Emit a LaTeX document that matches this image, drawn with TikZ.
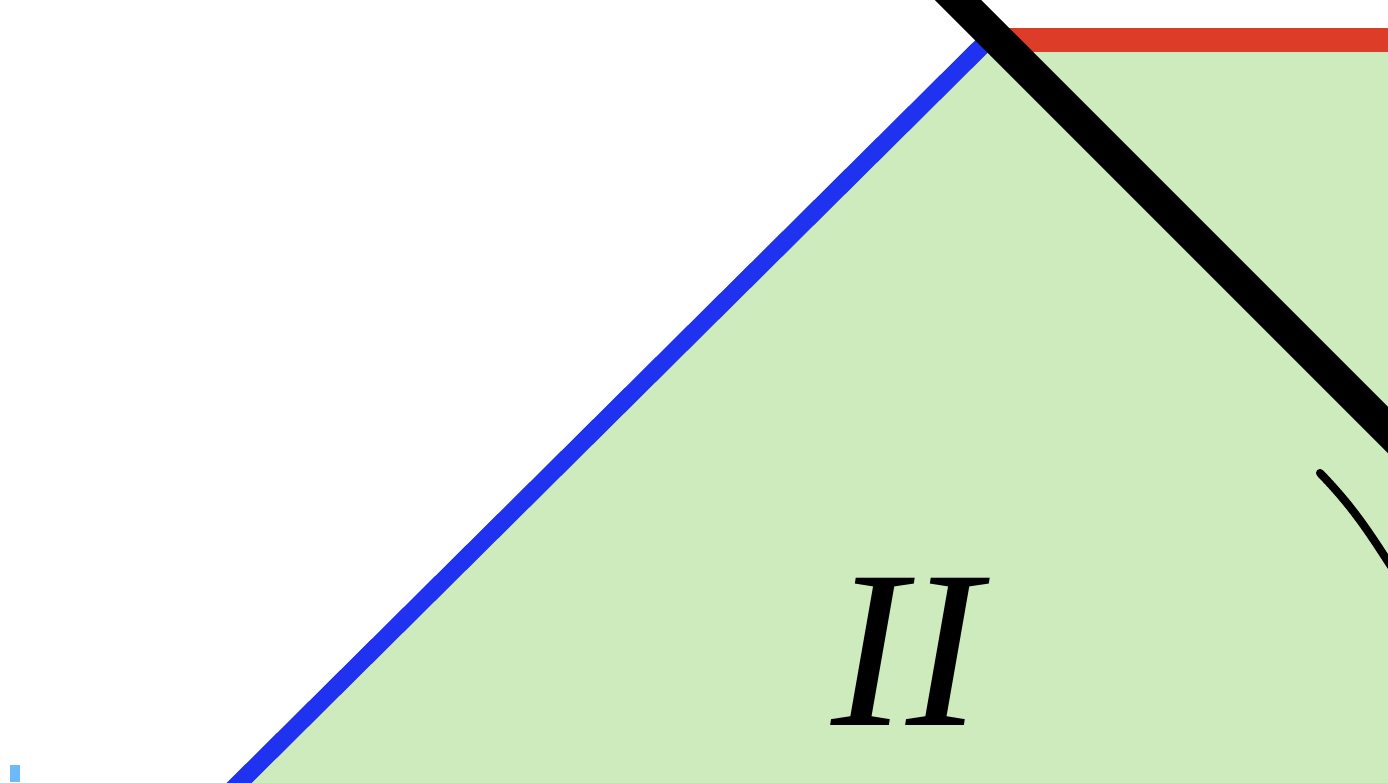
\documentclass[tikz,border=0pt]{standalone}
\usepackage{fontspec}
\setmainfont{Liberation Serif}
\usepackage{xcolor}
\usepackage{tikz}
\usetikzlibrary{calc}
\definecolor{regiongreen}{RGB}{206,235,189}
\definecolor{horizonblue}{RGB}{30,50,240}
\definecolor{infred}{RGB}{220,60,40}
\definecolor{markblue}{RGB}{110,185,250}
\tikzset{
  pd region/.style={fill=regiongreen, draw=none},
  pd horizon/.style={draw=horizonblue, line width=5pt},
  pd infinity/.style={draw=infred, line width=6.8pt},
  pd wall/.style={draw=black, line width=9.3pt},
  pd angle/.style={draw=black, line width=2.3pt, line cap=round},
  pd label/.style={font=\fontsize{64}{64}\selectfont\itshape, inner sep=0pt},
}
\begin{document}
\begin{tikzpicture}
  \useasboundingbox (0,0) rectangle (13.88,7.82);
  \clip (0,0) rectangle (13.88,7.82);
  % corners of region II
  \coordinate (hbot) at (2.30,-0.10);
  \coordinate (htop) at (9.88,7.42);
  \coordinate (iright) at (14.00,7.42);
  \coordinate (corner) at (14.00,-0.10);
  \coordinate (wtop) at (9.40,8.00);
  \coordinate (wbot) at (14.20,3.20);
  \coordinate (astart) at (13.20,3.09);
  \coordinate (aend) at (13.98,2.05);
  \fill[pd region] (hbot) -- (htop) -- (iright) -- (corner) -- cycle;
  \draw[pd horizon] (hbot) -- (htop);
  \draw[pd infinity] (htop) -- (iright);
  \draw[pd wall] (wtop) -- (wbot);
  \draw[pd angle] (astart) to[out=-46,in=123] (aend);
  \node[pd label] (regII) at (9.06,1.30) {II};
  \fill[markblue] (0.10,0) rectangle (0.20,0.17);
\end{tikzpicture}
\end{document}
